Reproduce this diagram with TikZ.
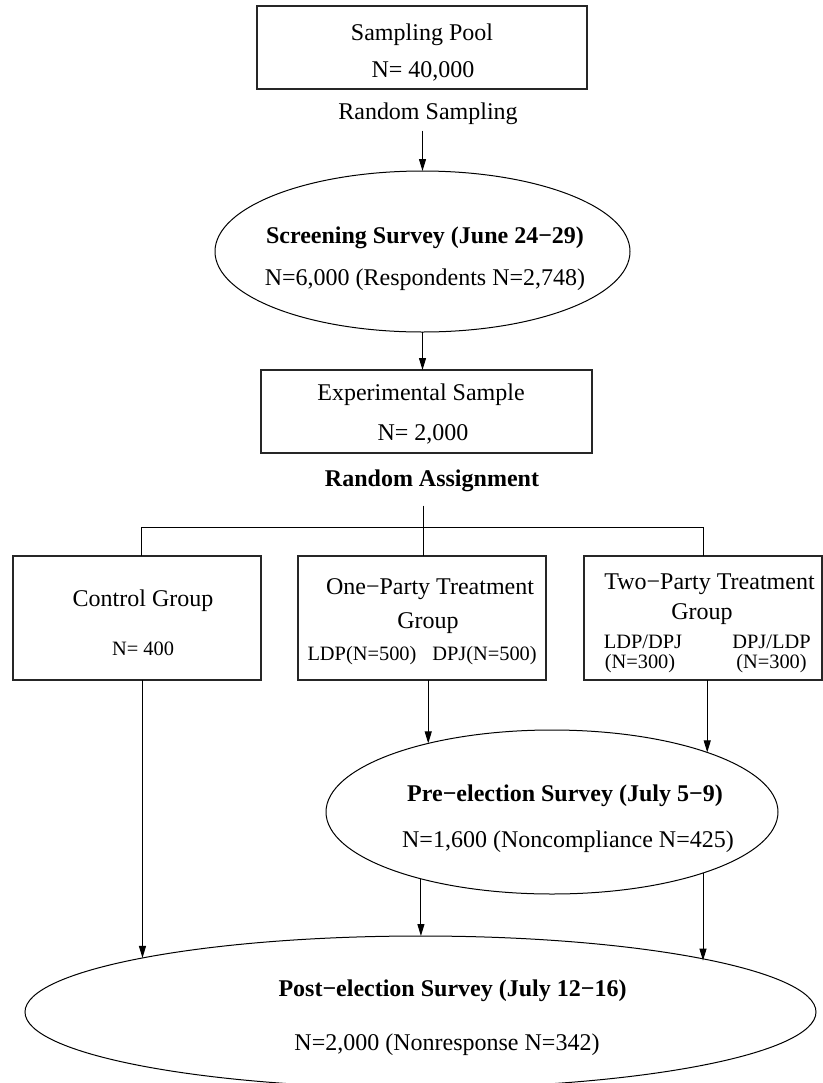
\documentclass[tikz,border=0pt]{standalone}
\usepackage{fontspec}
\setmainfont{Liberation Serif}
\usetikzlibrary{shapes.geometric,arrows.meta}
\begin{document}
\begin{tikzpicture}[x=0.5pt,y=-0.5pt,
  box/.style={draw=black!85,line width=0.6pt,rectangle,inner sep=0pt,outer sep=0pt},
  oval/.style={draw=black,line width=0.5pt,ellipse,inner sep=0pt,outer sep=0pt},
  txt/.style={inner sep=0pt,anchor=base,font=\fontsize{12}{14}\selectfont},
  btxt/.style={inner sep=0pt,anchor=base,font=\fontsize{12}{14}\selectfont\bfseries},
  stxt/.style={inner sep=0pt,anchor=base,font=\fontsize{10.2}{12}\selectfont},
  arr/.style={line width=0.5pt,-{Triangle[length=6pt,width=3.5pt]}},
  ln/.style={line width=0.5pt}]
\useasboundingbox (0,0) rectangle (823,1083);
\clip (0,0) rectangle (823,1083);

% shapes
\node[box,minimum width=165pt,minimum height=41.5pt] (pool) at (422,47.5) {};
\node[oval,minimum width=207.5pt,minimum height=80.5pt] (scr) at (422.5,251.5) {};
\node[box,minimum width=165.5pt,minimum height=41.5pt] (exp) at (426.5,411.5) {};
\node[box,minimum width=124pt,minimum height=62pt] (ctl) at (137,618) {};
\node[box,minimum width=124pt,minimum height=62pt] (one) at (422,618) {};
\node[box,minimum width=119pt,minimum height=62pt] (two) at (703,618) {};
\node[oval,minimum width=226pt,minimum height=82pt] (pre) at (552,812) {};
\node[oval,minimum width=395.5pt,minimum height=76pt] (post) at (420.5,1012) {};

% texts
\node[txt] (pool1) at (422,40) {Sampling Pool};
\node[txt] (pool2) at (423,77) {N= 40,000};
\node[txt] (rs) at (428,119) {Random Sampling};
\node[btxt] (scr1) at (425,243) {Screening Survey (June 24−29)};
\node[txt] (scr2) at (425,285) {N=6,000 (Respondents N=2,748)};
\node[txt] (exp1) at (421,400) {Experimental Sample};
\node[txt] (exp2) at (423,440) {N= 2,000};
\node[btxt] (ra) at (432,486) {Random Assignment};
\node[txt] (ctl1) at (143,606) {Control Group};
\node[stxt] (ctl2) at (143,655) {N= 400};
\node[txt] (one1) at (430,594) {One−Party Treatment};
\node[txt] (one2) at (428,628) {Group};
\node[stxt] (one3) at (362,660) {LDP(N=500)};
\node[stxt] (one4) at (484.5,660) {DPJ(N=500)};
\node[txt] (two1) at (709.5,589) {Two−Party Treatment};
\node[txt] (two2) at (702,619) {Group};
\node[stxt] (two3) at (643,648) {LDP/DPJ};
\node[stxt] (two4) at (771.5,648) {DPJ/LDP};
\node[stxt] (two5) at (640,668) {(N=300)};
\node[stxt] (two6) at (771.5,668) {(N=300)};
\node[btxt] (pre1) at (565,801) {Pre−election Survey (July 5−9)};
\node[txt] (pre2) at (568,847) {N=1,600 (Noncompliance N=425)};
\node[btxt] (post1) at (452.5,996) {Post−election Survey (July 12−16)};
\node[txt] (post2) at (447,1050) {N=2,000 (Nonresponse N=342)};

% connectors
\coordinate (rsb) at ([yshift=-3pt]rs.south);
\draw[arr] (rsb -| scr.north) -- (scr.north);
\draw[arr] (scr.south) -- (scr.south |- exp.north);
\coordinate (rab) at ([yshift=-7pt]ra.south);
\coordinate (fork) at (423,527);
\coordinate (dc) at (141,527);
\coordinate (dt) at (703,527);
\draw[ln] (rab -| fork) -- (fork);
\draw[ln] (dc) -- (dt);
\draw[ln] (dc) -- (dc |- ctl.north);
\draw[ln] (fork) -- (fork |- one.north);
\draw[ln] (dt) -- (dt |- two.north);
\draw[arr] (post.169.1 |- ctl.south) -- (post.169.1);
\draw[arr] (pre.151.6 |- one.south) -- (pre.151.6);
\draw[arr] (pre.21.8 |- two.south) -- (pre.21.8);
\draw[arr] (pre.207.4) -- (pre.207.4 |- post.88);
\draw[arr] (pre.338.8) -- (pre.338.8 |- post.10);
\end{tikzpicture}
\end{document}
